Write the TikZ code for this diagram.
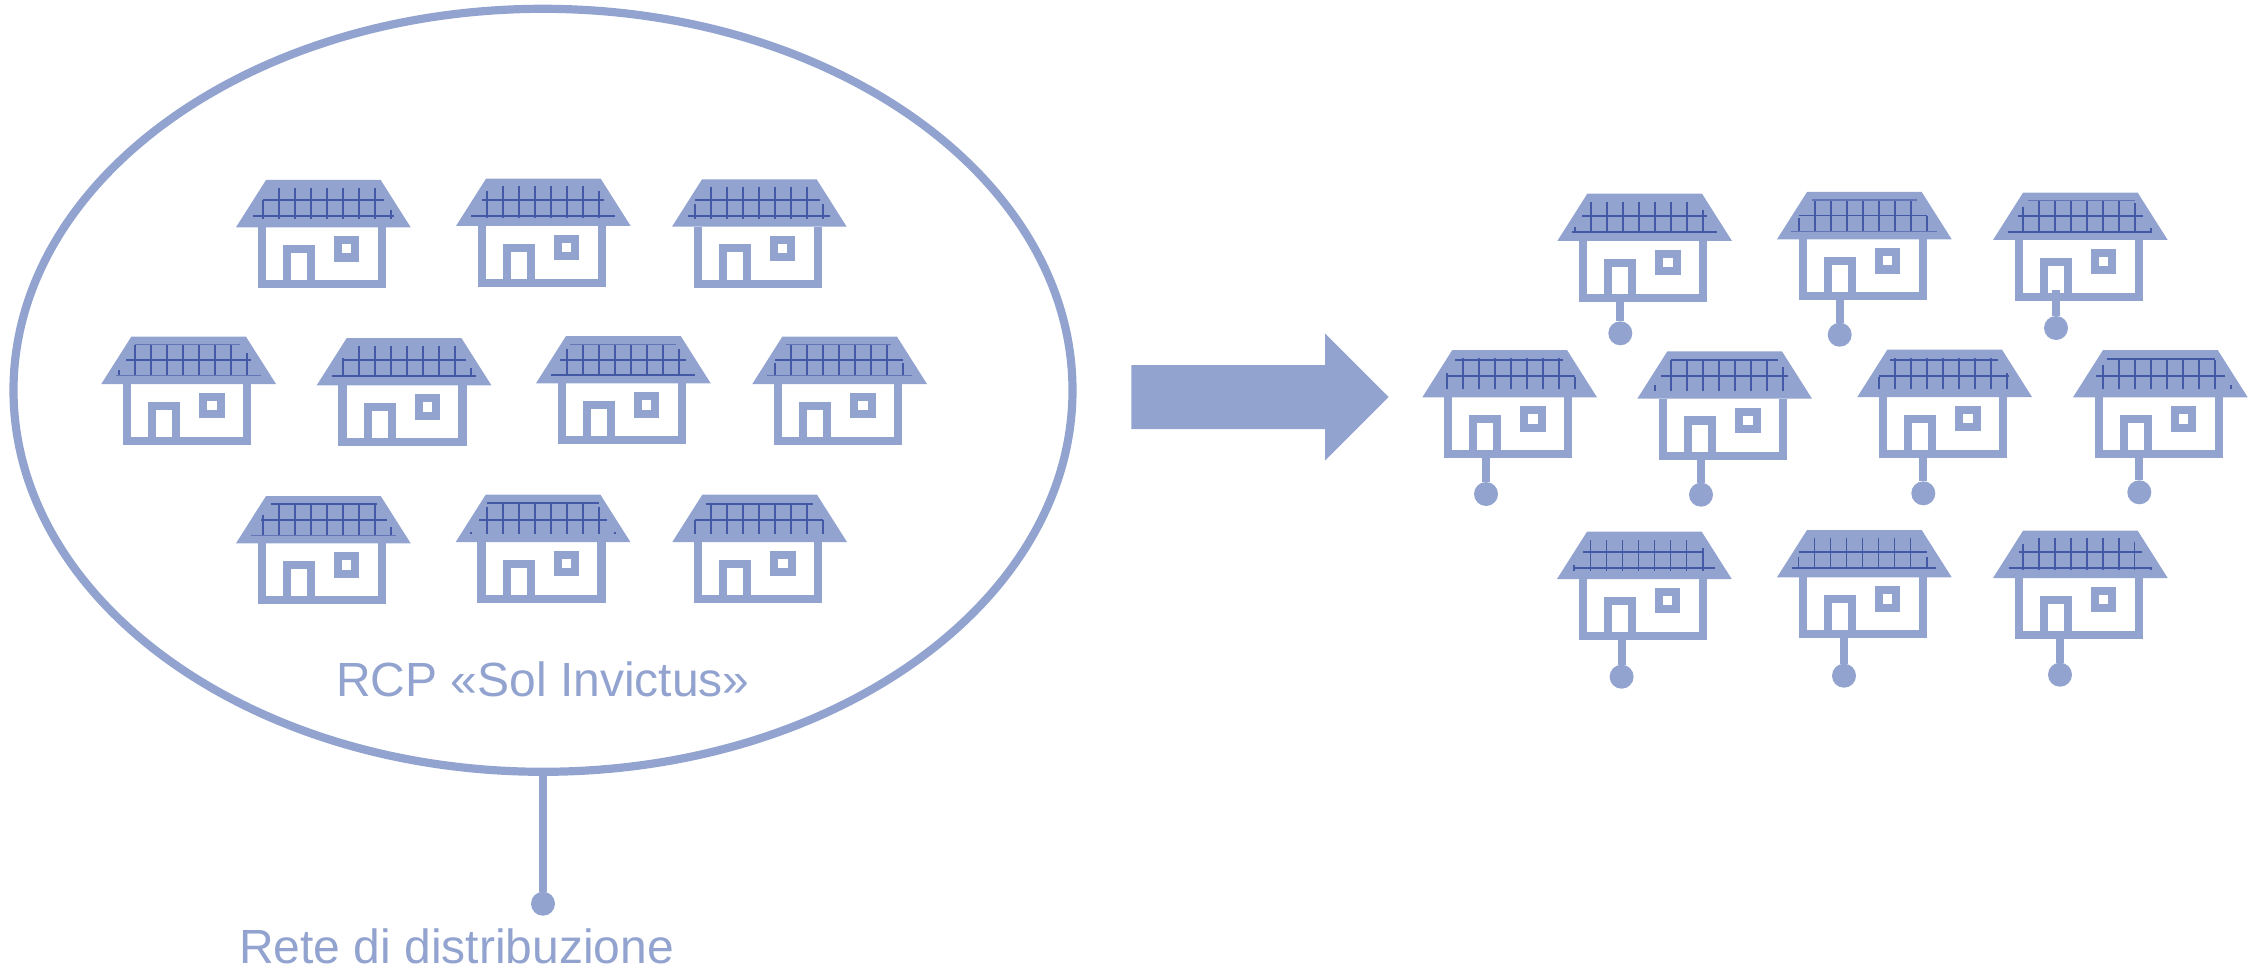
\documentclass[tikz,border=0pt]{standalone}
\usepackage{fontspec}
\setmainfont{Liberation Sans}
\usetikzlibrary{shapes.geometric}
\definecolor{blu}{HTML}{92A3CF}
\definecolor{pan}{HTML}{4459A6}
\definecolor{panlight}{HTML}{6275B5}
\tikzset{
  wall/.style={draw=blu,line width=4.1pt,fill=none,line join=miter},
  roofshape/.style={fill=blu,draw=none},
  panelline/.style={draw=pan,line width=0.85pt},
  panelthin/.style={draw=panlight,line width=0.55pt},
  wire/.style={draw=blu,line width=4pt},
  dotnode/.style={circle,fill=blu,draw=none,minimum size=12pt,inner sep=0pt,outer sep=0pt},
  labeltext/.style={text=blu,font=\fontsize{24}{27}\selectfont,inner sep=0pt,anchor=base},
}
% stub vertical, horizontal and thin horizontal panel lines, in house coordinates
\newcommand\panV[2]{\draw[panelline] (#1,8) -- (#1,#2);}
\newcommand\panH[3]{\draw[panelline] (#2,#1) -- (#3,#1);}
\newcommand\panT[3]{\draw[panelthin] (#2,#1) -- (#3,#1);}
% #1 first full vertical, #2 top, #3 last index
\newcommand\panF[3]{\foreach \k in {0,...,#3}{\draw[panelline] ({#1+16*\k},8) -- ({#1+16*\k},#2);}}
% #1 x, #2 y of roof's lower left corner, #3 panel lines
\newcommand\house[3]{%
  \begin{scope}[shift={(#1,#2)},yscale=-1]
    \fill[roofshape] (0,0) -- (30,47.3) -- (144.7,47.3) -- (174.7,0) -- cycle;
    \draw[wall] (25.7,0) -- (25.7,-57) -- (145.7,-57) -- (145.7,0);
    \draw[wall] (51,-57) -- (51,-21.7) -- (75,-21.7) -- (75,-57);
    \draw[wall] (102,-13) rectangle (119.3,-30.3);
    #3
  \end{scope}}
% #1 name, #2 dot x, #3 dot y, #4 y where the wire starts
\newcommand\feeder[4]{%
  \coordinate (b#1) at (#2,#4);
  \node[dotnode] (d#1) at (#2,#3) {};
  \draw[wire] (b#1) -- (d#1);}
\begin{document}
\begin{tikzpicture}[x=0.5pt,y=-0.5pt]
\useasboundingbox (0,0) rectangle (2259,968);
% ring
\node[ellipse,draw=blu,line width=4.1pt,minimum width=529.5pt,minimum height=381.5pt,inner sep=0pt,outer sep=0pt] (rcp) at (543,390.3) {};
\node[dotnode] (net) at (543,903.7) {};
\draw[wire] (rcp.south) -- (net);
\node[labeltext] (rcplabel) at (543,696.7) {RCP «Sol Invictus»};
\node[labeltext] (netlabel) at (456.7,963.3) {Rete di distribuzione};
% arrow
\fill[blu] (1131.3,365) -- (1325,365) -- (1325,333.3) -- (1388.7,397) -- (1325,460.7) -- (1325,429) -- (1131.3,429) -- cycle;
% left group
\house{236}{227.3}{\panF{43}{39}{6}\panV{27}{27.3}\panV{155}{17}\panH{27.3}{27}{148}\panH{11.3}{16.7}{158}}
\house{456}{226}{\panF{47}{40}{5}\panV{31}{35.3}\panV{143}{35.3}\panH{26}{25.7}{148.3}\panH{10}{15}{159}}
\house{672}{226.7}{\panF{39}{40}{6}\panV{23}{22.3}\panV{151}{22.3}\panH{26.7}{23}{148}\panH{10.7}{16.3}{158}}
\house{101.3}{384}{\panF{33.7}{39}{6}\panV{17.7}{14}\panV{145.7}{31.3}\panH{24}{24.7}{150}\panT{8.3}{14.7}{159.7}\panT{39.7}{34}{139}}
\house{316.7}{385.3}{\panF{42.3}{39.7}{6}\panV{26.3}{27}\panV{154.3}{17}\panH{25.3}{26.3}{149}\panH{9.3}{15}{159.3}}
\house{536}{383.3}{\panF{47}{39}{5}\panV{31}{34.3}\panV{143}{34.3}\panH{23.3}{24.3}{150}\panH{8.3}{15}{159}\panT{39}{34}{140}}
\house{752.3}{384}{\panF{38.7}{39.7}{6}\panV{22.7}{21.3}\panV{150.7}{21.3}\panH{24}{22.7}{150.7}\panT{8.3}{14.7}{159.7}\panT{39.7}{34}{139}}
\house{236}{543.3}{\panF{43}{39.3}{6}\panV{27}{28}\panV{155}{16.7}\panH{23.3}{24.7}{150.7}\panT{8}{15}{159.7}\panH{39.3}{34.7}{140.7}}
\house{455.7}{542}{\panF{47.3}{39.7}{5}\panV{31.3}{35.3}\panV{143.3}{35.3}\panV{15.3}{10}\panV{159.3}{10}\panH{22}{23.3}{151.7}\panH{38.7}{31.3}{143.3}}
\house{672.3}{542}{\panF{38.7}{39.3}{6}\panV{22.7}{22}\panV{150.7}{22}\panH{22}{22.7}{150.7}\panH{38}{33.7}{140.3}}
% right group
\feeder{r1}{1620.3}{333.3}{298}
\feeder{r2}{1839.7}{334.7}{296}
\feeder{r3}{2056}{328}{290}
\feeder{r4}{1486}{494}{454}
\feeder{r5}{1701}{494.7}{456}
\feeder{r6}{1923.3}{493.3}{454}
\feeder{r7}{2139.3}{492.3}{454}
\feeder{r8}{1621.6}{676.7}{636}
\feeder{r9}{1844}{675.7}{634}
\feeder{r10}{2060}{674.7}{635}
\house{1557.3}{241}{\panF{33.7}{39.3}{6}\panV{17.7}{14}\panV{145.7}{31}\panH{25.3}{25}{149.3}\panH{9}{15}{159.3}}
\house{1777}{239.3}{\panF{38}{39.3}{6}\panV{22}{21}\panV{150}{23.7}\panH{23.7}{22}{150}\panT{8}{14}{159.7}\panT{39.3}{34.7}{139.7}}
\house{1993}{240}{\panF{46}{39.3}{5}\panV{30}{32.7}\panV{142}{36.7}\panV{158}{12}\panH{24.3}{24.7}{149.7}\panH{8.3}{14.7}{159.3}\panT{39.3}{35.3}{142}}
\house{1422.3}{397.3}{\panF{40.7}{39}{6}\panV{24.7}{24.7}\panV{152.7}{20.7}\panH{21.3}{24.7}{152.7}\panH{37.3}{32.7}{141}}
\house{1637.3}{398.7}{\panF{33.7}{38.7}{6}\panV{17.7}{13.7}\panV{145.7}{32}\panH{23}{23.7}{150.7}\panH{38.7}{33.7}{141}}
\house{1857.3}{397}{\panF{37.7}{39.3}{6}\panV{21.7}{20.3}\panV{149.7}{24.3}\panH{21}{21.7}{151.3}\panH{37}{32.7}{141}}
\house{2073}{397.3}{\panF{46}{39}{5}\panV{30}{32.3}\panV{142}{37.3}\panV{158}{12.3}\panH{21.3}{23}{152}\panH{38}{33.7}{142}}
\house{1557}{579}{\panF{33.5}{39}{6}\panV{17}{14}\panV{146}{30.7}\panH{27}{26}{147}\panH{11}{17}{158.4}}
\house{1777}{577.3}{\panF{37.5}{39.3}{6}\panV{21.6}{20.7}\panV{149.8}{20.7}\panH{25.3}{21.6}{149.8}\panH{9.3}{14.7}{158.8}}
\house{1993}{578}{\panF{45.7}{39.7}{5}\panV{30.2}{33.7}\panV{141.6}{36}\panV{158}{11.3}\panH{26}{25.7}{149}\panH{10}{15.5}{158}}
\end{tikzpicture}
\end{document}
